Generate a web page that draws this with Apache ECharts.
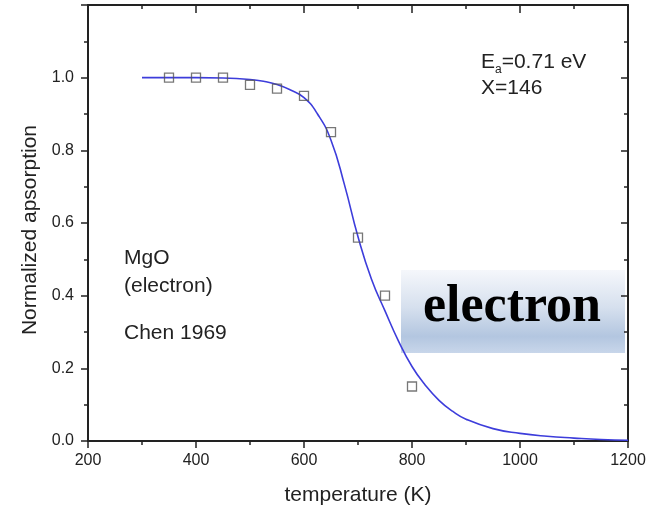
<!DOCTYPE html>
<html>
<head>
<meta charset="utf-8">
<script src="https://cdn.jsdelivr.net/npm/echarts@6/dist/echarts.min.js"></script>
<style>
  html, body { margin: 0; padding: 0; background: #fff; }
  #chart { width: 656px; height: 508px; }
</style>
</head>
<body>
<div id="chart"></div>
<script>
// Measured normalized absorption of MgO (electron centres) vs temperature
const tempMeasured = [350, 400, 450, 500, 550, 600, 650, 700, 750, 800];
const absMeasured  = [1.00, 1.00, 1.00, 0.98, 0.97, 0.95, 0.85, 0.56, 0.40, 0.15];

// Fitted decay curve (Ea = 0.71 eV, X = 146)
const tempFit = [300, 350, 400, 450, 500, 525, 550, 575, 600, 625, 650, 675, 700, 725, 750, 775, 800, 825, 850, 875, 900, 950, 1000, 1050, 1100, 1150, 1200];
const absFit  = [1.000, 1.000, 1.000, 0.999, 0.995, 0.990, 0.981, 0.966, 0.945, 0.900, 0.828, 0.705, 0.562, 0.445, 0.358, 0.275, 0.205, 0.153, 0.112, 0.082, 0.060, 0.034, 0.021, 0.013, 0.008, 0.004, 0.002];

// Axis ranges and labelled ticks
const xTickLabels = [200, 400, 600, 800, 1000, 1200];
const yTickLabels = ['0.0', '0.2', '0.4', '0.6', '0.8', '1.0'];

const fontFamily = '"Liberation Sans", Arial, sans-serif';
const axisColor = '#222';
const textFont = '21px ' + fontFamily;

const chart = echarts.init(document.getElementById('chart'), null, { renderer: 'canvas' });

const baseAxis = {
  type: 'value',
  axisLine: { show: true, onZero: false, lineStyle: { color: axisColor, width: 2 } },
  splitLine: { show: false },
  minorSplitLine: { show: false }
};

const option = {
  animation: false,
  backgroundColor: '#fff',
  grid: { left: 88, right: 28, top: 5, bottom: 67, containLabel: false },
  xAxis: [
    Object.assign({}, baseAxis, {
      position: 'bottom',
      min: 200, max: 1200, interval: 200,
      axisTick: { show: true, inside: false, length: 7, lineStyle: { color: axisColor, width: 1.5 } },
      minorTick: { show: true, splitNumber: 2, length: 4, lineStyle: { color: axisColor, width: 1.5 } },
      axisLabel: {
        show: true, margin: 12, color: '#222', fontSize: 16, fontFamily,
        formatter: v => (xTickLabels.indexOf(v) >= 0 ? String(v) : '')
      }
    }),
    Object.assign({}, baseAxis, {
      position: 'top',
      min: 200, max: 1200, interval: 200,
      axisTick: { show: true, inside: true, length: 8, lineStyle: { color: axisColor, width: 1.5 } },
      minorTick: { show: true, splitNumber: 2, length: 4, lineStyle: { color: axisColor, width: 1.5 } },
      axisLabel: { show: false }
    })
  ],
  yAxis: [
    Object.assign({}, baseAxis, {
      position: 'left',
      min: 0, max: 1.2, interval: 0.2,
      axisTick: { show: true, inside: false, length: 7, lineStyle: { color: axisColor, width: 1.5 } },
      minorTick: { show: true, splitNumber: 2, length: 4, lineStyle: { color: axisColor, width: 1.5 } },
      axisLabel: {
        show: true, margin: 14, color: '#222', fontSize: 16, fontFamily,
        formatter: v => {
          const s = v.toFixed(1);
          return yTickLabels.indexOf(s) >= 0 ? s : '';
        }
      }
    }),
    Object.assign({}, baseAxis, {
      position: 'right',
      min: 0, max: 1.2, interval: 0.2,
      axisTick: { show: true, inside: true, length: 7, lineStyle: { color: axisColor, width: 1.5 } },
      minorTick: { show: true, splitNumber: 2, length: 4, lineStyle: { color: axisColor, width: 1.5 } },
      axisLabel: { show: false }
    })
  ],
  series: [
    {
      name: 'fit',
      type: 'line',
      xAxisIndex: 0, yAxisIndex: 0,
      data: tempFit.map((t, i) => [t, absFit[i]]),
      smooth: 0.5,
      showSymbol: false,
      lineStyle: { color: '#3d3ddb', width: 1.6 },
      z: 2
    },
    {
      name: 'measured',
      type: 'scatter',
      xAxisIndex: 0, yAxisIndex: 0,
      data: tempMeasured.map((t, i) => [t, absMeasured[i]]),
      symbol: 'rect',
      symbolSize: 9,
      itemStyle: { color: 'rgba(255,255,255,0)', borderColor: '#555', borderWidth: 1.3 },
      z: 3
    }
  ],
  graphic: [
    {
      type: 'text',
      x: 30, y: 230,
      rotation: Math.PI / 2,
      style: {
        text: 'Normalized apsorption',
        font: textFont,
        fill: '#222',
        textAlign: 'center',
        textVerticalAlign: 'middle'
      }
    },
    {
      type: 'text',
      x: 358, y: 495,
      style: {
        text: 'temperature (K)',
        font: textFont,
        fill: '#222',
        textAlign: 'center',
        textVerticalAlign: 'middle'
      }
    },
    {
      type: 'text',
      x: 481, y: 62,
      style: {
        text: '{b|E}{s|a}{b|=0.71 eV}',
        rich: {
          b: { font: textFont, fill: '#222', verticalAlign: 'middle' },
          s: { font: '12px ' + fontFamily, fill: '#222', padding: [15, 0, 0, 0], verticalAlign: 'bottom' }
        },
        textVerticalAlign: 'middle'
      }
    },
    {
      type: 'text',
      x: 481, y: 88,
      style: { text: 'X=146', font: textFont, fill: '#222', textVerticalAlign: 'middle' }
    },
    {
      type: 'text',
      x: 124, y: 258,
      style: { text: 'MgO', font: textFont, fill: '#222', textVerticalAlign: 'middle' }
    },
    {
      type: 'text',
      x: 124, y: 286,
      style: { text: '(electron)', font: textFont, fill: '#222', textVerticalAlign: 'middle' }
    },
    {
      type: 'text',
      x: 124, y: 333,
      style: { text: 'Chen 1969', font: textFont, fill: '#222', textVerticalAlign: 'middle' }
    },
    {
      type: 'group',
      z: 100,
      children: [
        {
          type: 'rect',
          shape: { x: 401, y: 270, width: 224, height: 83 },
          style: {
            fill: new echarts.graphic.LinearGradient(0, 0, 0, 1, [
              { offset: 0, color: '#f5f7fb' },
              { offset: 0.45, color: '#d6e0ee' },
              { offset: 0.8, color: '#b3c6e0' },
              { offset: 1, color: '#c8d6ea' }
            ])
          }
        },
        {
          type: 'text',
          x: 512, y: 308,
          style: {
            text: 'electron',
            font: 'bold 52px "Liberation Serif", "Times New Roman", serif',
            fill: '#000',
            textAlign: 'center',
            textVerticalAlign: 'middle'
          }
        }
      ]
    }
  ]
};

chart.setOption(option);
</script>
</body>
</html>
